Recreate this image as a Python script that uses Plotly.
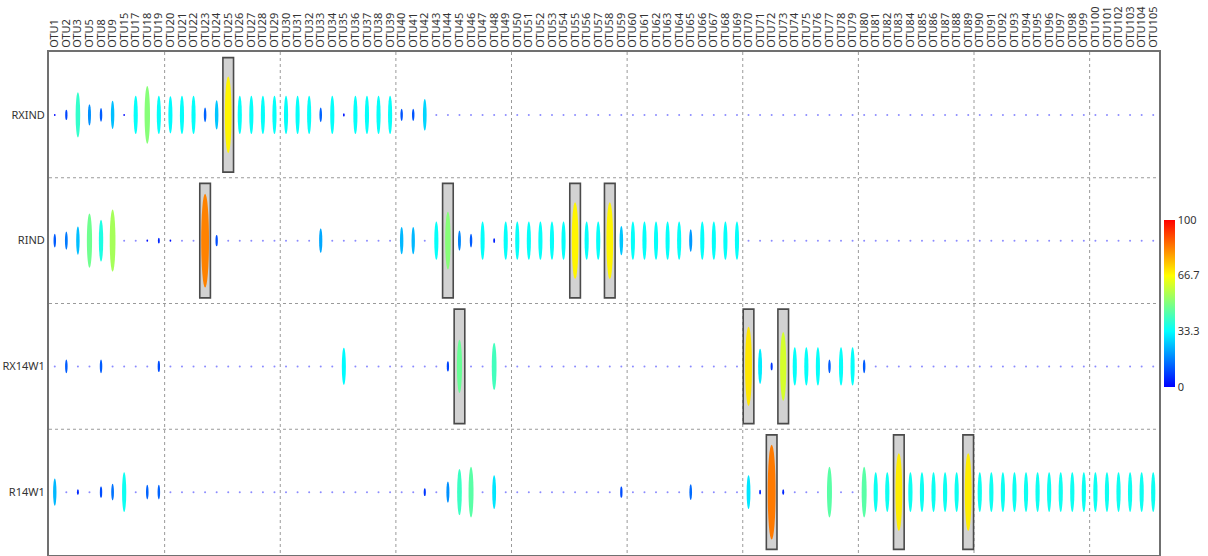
import plotly.graph_objects as go
from plotly.colors import sample_colorscale

# ---------------- data ----------------
otus = ["OTU1", "OTU2", "OTU3", "OTU5", "OTU8", "OTU9", "OTU15", "OTU17", "OTU18"] + \
       ["OTU%d" % n for n in range(19, 106)]
samples = ["RXIND", "RIND", "RX14W1", "R14W1"]

rxind = [1, 9, 40, 19, 12, 25, 1, 34, 51, 34,
         33, 34, 34, 13, 26, 68, 34, 34, 34, 34,
         34, 34, 34, 13, 34, 3, 34, 34, 34, 34,
         11, 11, 28, 0, 0, 0, 0, 0, 0, 0,
         0, 0, 0, 0, 0, 0, 0, 0, 0, 0,
         0, 0, 0, 0, 0, 0, 0, 0, 0, 0,
         0, 0, 0, 0, 0, 0, 0, 0, 0, 0,
         0, 0, 0, 0, 0, 0, 0, 0, 0, 0,
         0, 0, 0, 0, 0, 0, 0, 0, 0, 0,
         0, 0, 0, 0, 0, 0]
rind = [12, 16, 25, 48, 37, 55, 0, 0, 2, 5,
        2, 0, 0, 83, 10, 0, 0, 0, 0, 0,
        0, 0, 0, 22, 0, 0, 0, 0, 0, 0,
        24, 24, 0, 34, 51, 18, 12, 34, 4, 34,
        34, 34, 34, 34, 34, 68, 34, 34, 68, 26,
        34, 34, 34, 34, 34, 20, 34, 34, 34, 34,
        0, 0, 0, 0, 0, 0, 0, 0, 0, 0,
        0, 0, 0, 0, 0, 0, 0, 0, 0, 0,
        0, 0, 0, 0, 0, 0, 0, 0, 0, 0,
        0, 0, 0, 0, 0, 0]
rx14w1 = [0, 12, 0, 0, 12, 0, 0, 0, 0, 10,
          0, 0, 0, 0, 0, 0, 0, 0, 0, 0,
          0, 0, 0, 0, 0, 33, 0, 0, 0, 0,
          0, 0, 0, 0, 9, 47, 0, 0, 42, 0,
          0, 0, 0, 0, 0, 0, 0, 0, 0, 0,
          0, 0, 0, 0, 0, 0, 0, 0, 0, 0,
          70, 31, 7, 61, 34, 34, 34, 12, 34, 34,
          12, 0, 0, 0, 0, 0, 0, 0, 0, 0,
          0, 0, 0, 0, 0, 0, 0, 0, 0, 0,
          0, 0, 0, 0, 0, 0]
r14w1 = [24, 0, 5, 0, 10, 15, 35, 0, 13, 13,
         0, 0, 0, 0, 0, 0, 0, 0, 0, 0,
         0, 0, 0, 0, 0, 0, 0, 0, 0, 0,
         0, 0, 7, 0, 19, 41, 45, 0, 30, 0,
         0, 0, 0, 0, 0, 0, 0, 0, 0, 10,
         0, 0, 0, 0, 0, 14, 0, 0, 0, 0,
         30, 4, 84, 5, 0, 0, 0, 45, 0, 0,
         45, 35, 35, 69, 35, 35, 35, 35, 35, 69,
         35, 35, 35, 35, 35, 35, 35, 35, 35, 35,
         35, 35, 35, 35, 35, 35]
values = [rxind, rind, rx14w1, r14w1]

# highlighted cells (OTU names) per sample
highlight_rxind = ["OTU25"]
highlight_rind = ["OTU23", "OTU44", "OTU55", "OTU58"]
highlight_rx14w1 = ["OTU45", "OTU70", "OTU73"]
highlight_r14w1 = ["OTU72", "OTU83", "OTU89"]
highlights = [highlight_rxind, highlight_rind, highlight_rx14w1, highlight_r14w1]

colorbar_ticks = [0, 33.3, 66.7, 100]

# ---------------- styling ----------------
W, H = 1208, 556
ML, MR, MT, MB = 49, 49, 52, 1
plot_w = W - ML - MR
plot_h = H - MT - MB
ncol = len(otus)
nrow = len(samples)
px_x = plot_w / ncol      # pixels per column unit
px_y = plot_h / nrow      # pixels per row unit

cscale = [[0, "rgb(0,0,255)"], [1 / 3, "rgb(0,255,255)"],
          [2 / 3, "rgb(255,255,0)"], [1, "rgb(255,0,0)"]]

shapes = []
grid_style = dict(color="#9a9a9a", width=1, dash="dot")
for k in range(10, ncol, 10):
    shapes.append(dict(type="line", xref="x", yref="y", x0=k - 0.5, x1=k - 0.5,
                       y0=-0.5, y1=nrow - 0.5, line=grid_style, layer="below"))
for r in range(1, nrow):
    shapes.append(dict(type="line", xref="x", yref="y", x0=-0.5, x1=ncol - 0.5,
                       y0=r - 0.5, y1=r - 0.5, line=grid_style, layer="below"))

# highlight boxes
for r, hl in enumerate(highlights):
    for name in hl:
        c = otus.index(name)
        shapes.append(dict(type="rect", xref="x", yref="y",
                           x0=c - 0.46, x1=c + 0.46, y0=r - 0.455, y1=r + 0.455,
                           fillcolor="#d2d2d2", line=dict(color="#4a4a4a", width=1.6)))

# ellipses
for r, row in enumerate(values):
    for c, v in enumerate(row):
        h_px = max(2.0, v * 1.13)
        w_px = 1.6 + 0.075 * v
        col = sample_colorscale(cscale, [v / 100.0])[0]
        op = 1.0
        if v < 1:
            col = "rgb(110,110,255)"
            op = 0.8
            w_px = 2.0
        hw = w_px / px_x / 2
        hh = h_px / px_y / 2
        shapes.append(dict(type="circle", xref="x", yref="y",
                           x0=c - hw, x1=c + hw, y0=r - hh, y1=r + hh,
                           fillcolor=col, opacity=op, line=dict(width=0)))

fig = go.Figure()
fig.add_trace(go.Scatter(
    x=[None], y=[None], mode="markers", hoverinfo="skip", showlegend=False,
    marker=dict(color=[0, 100], cmin=0, cmax=100, colorscale=cscale, showscale=True,
                colorbar=dict(x=(1164 - ML) / plot_w, xanchor="left", xpad=0, ypad=0,
                              y=0.5, yanchor="middle", len=167 / plot_h, lenmode="fraction",
                              thickness=11, outlinewidth=0, ticks="",
                              tickvals=colorbar_ticks,
                              ticktext=[str(t) for t in colorbar_ticks],
                              tickfont=dict(size=11, color="#333333")))))

font_family = "Noto Sans, Open Sans, sans-serif"
fig.update_layout(
    width=W, height=H,
    margin=dict(l=ML, r=MR, t=MT, b=MB, pad=0, autoexpand=False),
    paper_bgcolor="white", plot_bgcolor="white",
    font=dict(family=font_family, size=11, color="#333333"),
    shapes=shapes,
    showlegend=False,
    xaxis=dict(range=[-0.5, ncol - 0.5], side="top", tickmode="array",
               tickvals=list(range(ncol)), ticktext=otus, tickangle=-90,
               showgrid=False, zeroline=False, showline=True, mirror=True,
               linecolor="#707070", linewidth=2, ticks="", automargin=False,
               tickfont=dict(size=11, color="#333333")),
    yaxis=dict(range=[nrow - 0.5, -0.5], tickmode="array",
               tickvals=list(range(nrow)), ticktext=samples,
               showgrid=False, zeroline=False, showline=True, mirror=True,
               linecolor="#707070", linewidth=2, ticks="", automargin=False,
               tickfont=dict(size=11, color="#333333")),
)

fig.write_html("out.html", config={"displayModeBar": False},
               post_script="document.body.style.margin='0';document.body.style.overflow='hidden';")
